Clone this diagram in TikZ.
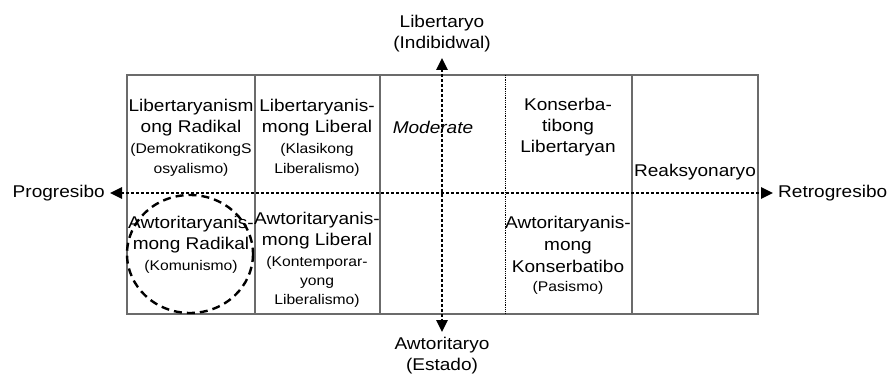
\documentclass[tikz,border=0pt]{standalone}
\usepackage{fontspec}
\setmainfont{Liberation Sans}[FakeStretch=1.12]
\usepackage{tikz}
\usetikzlibrary{arrows.meta, calc}
\definecolor{boxgray}{rgb}{0.42,0.42,0.42}
\newcommand{\smtext}{\fontsize{14}{19}\selectfont}

\begin{document}
\begin{tikzpicture}[x=1pt, y=-1pt,
    cell/.style={align=center, inner sep=0pt, anchor=north, font=\fontsize{17}{21}\selectfont},
    axislabel/.style={align=center, font=\fontsize{17}{21}\selectfont},
    axisline/.style={line width=2.6pt, dash pattern=on 2.6pt off 2.4pt,
      {Triangle[length=12pt,width=11pt]}-{Triangle[length=12pt,width=11pt]}},
    border/.style={boxgray, line width=1.4pt}]
    \useasboundingbox (0,0) rectangle (896,374);

    % the grid
    \draw [border] (127,75) rectangle (758,314);
    \foreach \x in {255,380,632}
      \draw [border] (\x,75) -- (\x,314);
    \draw [densely dotted, line width=0.8pt] (505,75) -- (505,314);

    % upper row
    \node[cell] (libRad) at (191,99) {Libertaryanism\\ong Radikal\\{\smtext (DemokratikongS}\\[-1pt]{\smtext osyalismo)}};
    \node[cell] (libLib) at (317,99) {Libertaryanis-\\mong Liberal\\{\smtext (Klasikong}\\[-1pt]{\smtext Liberalismo)}};
    \node[cell, font=\fontsize{17}{21}\selectfont\itshape] (moderate) at (433,121) {Moderate};
    \node[cell] (konLib) at (568,98) {Konserba-\\tibong\\Libertaryan};
    \node[cell] (reaks) at (695,164) {Reaksyonaryo};

    % lower row
    \node[cell] (awtRad) at (191,216) {Awtoritaryanis-\\mong Radikal\\{\smtext (Komunismo)}};
    \node[cell] (awtLib) at (317,212) {Awtoritaryanis-\\mong Liberal\\{\smtext (Kontemporar-}\\[-2pt]{\smtext yong}\\[-2pt]{\smtext Liberalismo)}};
    \node[cell] (awtKon) at (568,216) {Awtoritaryanis-\\[1pt]mong\\[1pt]Konserbatibo\\[-2pt]{\smtext (Pasismo)}};

    \draw [line width=2.4pt, dash pattern=on 8pt off 5pt] (190,254) ellipse [x radius=63, y radius=59];

    % axes
    \node[axislabel, anchor=east, inner xsep=5pt] (prog) at (110,193) {Progresibo};
    \node[axislabel, anchor=west, inner xsep=5pt] (retro) at (773,193) {Retrogresibo};
    \node[axislabel, anchor=south, inner sep=6pt] (lib) at (442,58) {Libertaryo\\(Indibidwal)};
    \node[axislabel, anchor=north, inner sep=5pt] (awt) at (442,332) {Awtoritaryo\\(Estado)};

    \draw [axisline] (prog) -- (retro);
    \draw [axisline] (lib) -- (awt);
  \end{tikzpicture}
\end{document}
